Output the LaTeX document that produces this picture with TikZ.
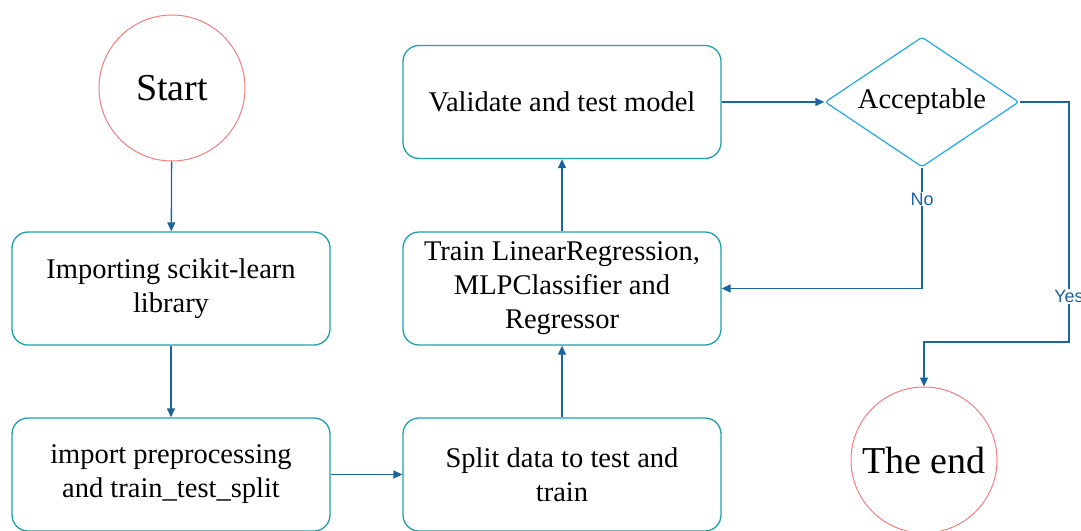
\documentclass[tikz,border=0pt]{standalone}
\usepackage{fontspec}
\setmainfont{Liberation Serif}
\newfontfamily\labelfont{Liberation Sans}
\usetikzlibrary{shapes.geometric,arrows.meta}

\definecolor{boxline}{RGB}{30,160,172}
\definecolor{flowline}{RGB}{26,100,160}
\definecolor{termline}{RGB}{245,125,125}
\definecolor{decline}{RGB}{45,172,232}

\begin{document}
\begin{tikzpicture}
		[x=1pt,y=-1pt,
		 box/.style= {draw=boxline,line width=1.3pt,rounded corners=16pt,minimum width=318pt,minimum height=113pt,align=center,font=\fontsize{28.5}{34}\selectfont},
		 term/.style= {draw=termline,line width=1pt,circle,minimum size=146pt,inner sep=0pt,font=\fontsize{38}{42}\selectfont},
		 dec/.style= {draw=decline,line width=1.3pt,diamond,aspect=1.49,minimum width=194pt,minimum height=130pt,inner sep=0pt,rounded corners=3pt,font=\fontsize{28.5}{34}\selectfont},
		 flow/.style= {draw=flowline,line width=1.3pt,-{Triangle[length=9pt,width=8pt]}},
		 back/.style= {draw=flowline,line width=1.3pt,{Triangle[length=9pt,width=8pt]}-},
		 lbl/.style= {fill=white,text=flowline,inner sep=1pt,font=\labelfont\fontsize{18}{20}\selectfont}]

		\useasboundingbox (0,0) rectangle (1081,530);

		\node[term] (start) at (172,88) {Start}
		;

		\node[box] (libs) at (171,288.5) {Importing scikit-learn\\library}
			edge [back]	(start)
		;

		\node[box] (prep) at (171,474.5) {import preprocessing\\and train\_test\_split}
			edge [back]	(libs)
		;

		\node[box] (split) at (562,474.5) {Split data to test and\\train}
			edge [back]	(prep)
		;

		\node[box] (train) at (562,288.5) {Train LinearRegression,\\MLPClassifier and\\Regressor}
			edge [back]	(split)
		;

		\node[box] (valid) at (562,102) {Validate and test model}
			edge [back]	(train)
		;

		\node[dec] (acc) at (922,102) {Acceptable}
			edge [back]	(valid)
		;

		\node[term] (theend) at (924,460) {The end}
		;

		% No: back to training
		\draw[flow] (acc.south) |- node[lbl,pos=0.13] {No} (train.east);

		% Yes: on to the end
		\coordinate (yestop) at (1069,102);
		\coordinate (yesbot) at (1069,342);
		\draw[flow] (acc.east) -- (yestop) -- node[lbl,pos=0.81] {Yes} (yesbot) -| (theend.north);

	\end{tikzpicture}
\end{document}
